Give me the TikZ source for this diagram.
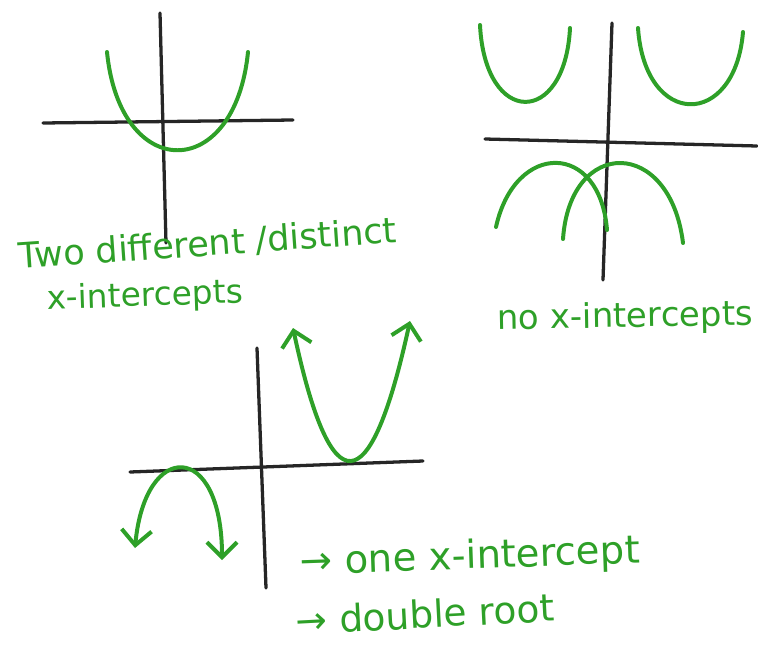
\documentclass[tikz,border=0pt]{standalone}
\usepackage{fontspec}
\setmainfont{DejaVu Sans}
\usetikzlibrary{arrows.meta}
\definecolor{pen}{RGB}{46,160,40}
\begin{document}
\begin{tikzpicture}[x=0.03cm,y=-0.03cm,line cap=round,line join=round,
    axis/.style={line width=2.8pt,black!85},
    curve/.style={line width=3.4pt,pen},
    barb/.style={{Straight Barb[length=4.5mm,width=9mm]}-{Straight Barb[length=4.5mm,width=9mm]}},
    note/.style={pen,inner sep=0pt}]
  \useasboundingbox (0,0) rectangle (758,644);
  % two x-intercepts
  \draw[axis] (160,13) -- (166,243);
  \draw[axis] (43,123) -- (293,120);
  \draw[curve] (107,52) .. controls (120,183) and (235,183) .. (248,52);
  \node[note,font=\fontsize{30}{30}\selectfont,rotate=4] (two) at (208,244) {Two different /distinct};
  \node[note,font=\fontsize{28}{28}\selectfont,rotate=2] (twob) at (145,297) {x-intercepts};
  % no x-intercepts
  \draw[axis] (612,23) -- (603,280);
  \draw[axis] (485,139) -- (757,146);
  \draw[curve] (480,25) .. controls (485,127) and (565,127) .. (570,28);
  \draw[curve] (638,28) .. controls (645,129) and (735,129) .. (743,32);
  \draw[curve] (496,227) .. controls (515,141) and (600,141) .. (607,230);
  \draw[curve] (563,239) .. controls (570,137) and (670,137) .. (683,243);
  \node[note,font=\fontsize{29}{29}\selectfont,rotate=1] (none) at (625,318) {no x-intercepts};
  % one x-intercept
  \draw[axis] (257,348) -- (266,588);
  \draw[axis] (130,472) -- (423,461);
  \draw[curve,barb] (293,328) .. controls (331,506) and (370,504) .. (410,321);
  \draw[curve,barb] (135,548) .. controls (145,440) and (222,440) .. (222,560);
  \node[note,font=\fontsize{33}{33}\selectfont,rotate=2] (one) at (470,558) {→ one x-intercept};
  \node[note,font=\fontsize{32}{32}\selectfont,rotate=3] (dbl) at (425,614) {→ double root};
\end{tikzpicture}
\end{document}
